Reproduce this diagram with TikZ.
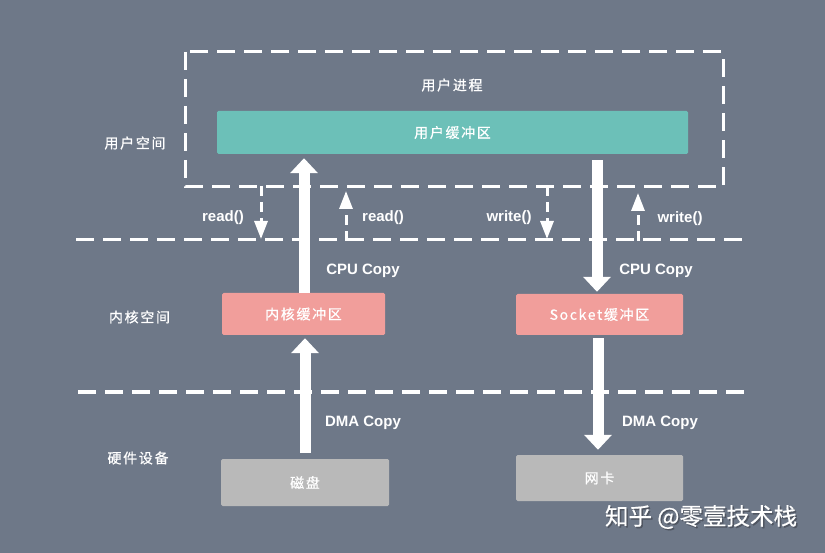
\documentclass[tikz,border=0pt]{standalone}
\usepackage{fontspec}
\setmainfont{Liberation Sans}
\newfontfamily\cjk[LetterSpace=12,FakeBold=0.6]{Noto Sans CJK SC}
\newfontfamily\cjkwm[FakeBold=0.4]{Noto Sans CJK SC}
\usetikzlibrary{arrows.meta,calc}
\definecolor{bgc}{RGB}{110,120,136}
\definecolor{tealc}{RGB}{108,192,184}
\definecolor{pinkc}{RGB}{241,158,155}
\definecolor{grayc}{RGB}{185,185,185}
\definecolor{shadowc}{RGB}{80,86,98}
\tikzset{
  box/.style={draw=none, rounded corners=1.5pt, inner sep=0pt, text=white, font=\cjk\fontsize{14}{16}\selectfont},
  ubox/.style={box, fill=tealc},
  kbox/.style={box, fill=pinkc},
  hbox/.style={box, fill=grayc},
  dashline/.style={white, line width=3pt, dash pattern=on 18pt off 9pt},
  bigarrow/.style={white, line width=11pt, -{Triangle[width=27pt,length=15pt]}},
  smallarrow/.style={white, line width=3pt, dash pattern=on 10pt off 6pt, -{Triangle[width=13pt,length=18pt]}},
  lbl/.style={text=white, font=\bfseries\fontsize{15}{17}\selectfont, inner sep=0pt, yshift=-2.5pt},
  zlbl/.style={text=white, font=\cjk\fontsize{14}{16}\selectfont, inner sep=0pt}
}
\begin{document}
\begin{tikzpicture}[x=1pt,y=-1pt]
\fill[bgc] (0,0) rectangle (825,553);
\useasboundingbox (0,0) rectangle (825,553);

% region separators
\draw[dashline] (185,52) rectangle (723,187);
\draw[dashline] (76,240) -- (742,240);
\draw[dashline] (78,392) -- (752,392);

% zone labels
\node[zlbl] (us) at (135,143) {用户空间};
\node[zlbl] (ks) at (139.5,317) {内核空间};
\node[zlbl] (hw) at (138,458) {硬件设备};
\node[zlbl] (proc) at (452,85) {用户进程};

% boxes
\node[ubox, minimum width=471pt, minimum height=43pt] (ub) at (452.5,132.5) {用户缓冲区};
\node[kbox, minimum width=163pt, minimum height=42pt] (kb) at (303.5,314) {内核缓冲区};
\node[kbox, minimum width=167pt, minimum height=41pt] (sb) at (599.5,314.5) {Socket缓冲区};
\node[hbox, minimum width=168pt, minimum height=47pt] (disk) at (305,482.5) {磁盘};
\node[hbox, minimum width=167pt, minimum height=46pt] (nic) at (599.5,478) {网卡};

% big arrows
\draw[bigarrow, shorten >=4pt] ($(kb.north)+(0.5,0)$) -- ($(kb.north |- ub.south)+(0.5,0)$);
\draw[bigarrow, shorten <=6pt, shorten >=2pt] ($(sb.north |- ub.south)+(-2.5,0)$) -- ($(sb.north)+(-2.5,0)$);
\draw[bigarrow, shorten <=6pt, shorten >=3pt] (disk.north) -- (disk.north |- kb.south);
\draw[bigarrow, shorten <=3pt, shorten >=5pt] ($(sb.south)+(-1.5,0)$) -- ($(nic.north)+(-1.5,0)$);

% small call arrows
\coordinate (r1t) at (261,186);
\coordinate (r1b) at (261,239);
\coordinate (r2b) at (346,241);
\coordinate (r2t) at (346,191);
\coordinate (w1t) at (547,186);
\coordinate (w1b) at (547,239);
\coordinate (w2b) at (638,241);
\coordinate (w2t) at (638,193);
\draw[smallarrow] (r1t) -- (r1b);
\draw[smallarrow] (r2b) -- (r2t);
\draw[smallarrow] (w1t) -- (w1b);
\draw[smallarrow] (w2b) -- (w2t);

% labels
\node[lbl] (l1) at (223,215) {read()};
\node[lbl] (l2) at (383,215) {read()};
\node[lbl] (l3) at (509,215) {write()};
\node[lbl] (l4) at (680,216) {write()};
\node[lbl] (c1) at (363,268) {CPU Copy};
\node[lbl] (c2) at (656,268) {CPU Copy};
\node[lbl] (d1) at (363,420) {DMA Copy};
\node[lbl] (d2) at (660,420) {DMA Copy};

% watermark
\node[text=shadowc, font=\cjkwm\fontsize{23.5}{26}\selectfont, inner sep=0pt] at (702.5,518.5) {知乎 @零壹技术栈};
\node[text=white, font=\cjkwm\fontsize{23.5}{26}\selectfont, inner sep=0pt] (wm) at (701,517) {知乎 @零壹技术栈};
\end{tikzpicture}
\end{document}
